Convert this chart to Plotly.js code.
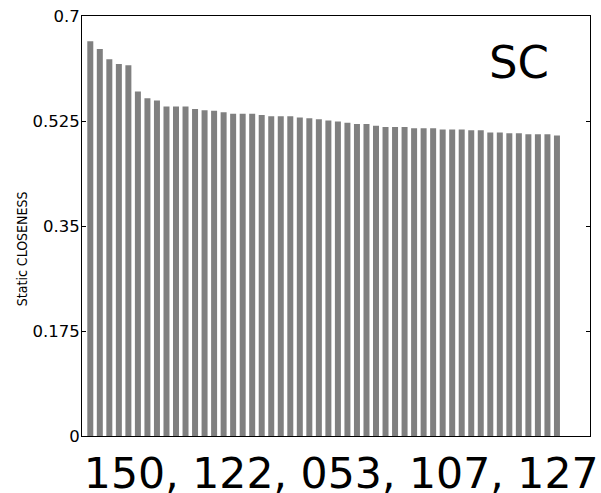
<!DOCTYPE html>
<html>
<head>
<meta charset="utf-8">
<script src="https://cdn.plot.ly/plotly-3.0.1.min.js"></script>
<style>html,body{margin:0;padding:0;background:#fff;}#chart{width:601px;height:493px;}</style>
</head>
<body>
<div id="chart"></div>
<script>
var nodeIndex = [];
var closeness = [0.658, 0.645, 0.628, 0.620, 0.618, 0.574, 0.563, 0.559, 0.549, 0.549,
                 0.549, 0.545, 0.543, 0.542, 0.5395, 0.537, 0.537, 0.537, 0.535, 0.533,
                 0.533, 0.533, 0.531, 0.5295, 0.528, 0.526, 0.524, 0.522, 0.520, 0.520,
                 0.517, 0.515, 0.515, 0.515, 0.513, 0.513, 0.513, 0.511, 0.511, 0.511,
                 0.5095, 0.5095, 0.506, 0.506, 0.5045, 0.5045, 0.503, 0.503, 0.503, 0.501];
for (var i = 0; i < closeness.length; i++) nodeIndex.push(i);
var xTickLabel = ["150, 122, 053, 107, 127"];
var yTickVals = [0, 0.175, 0.35, 0.525, 0.7];
var yTickText = ["0", "0.175", "0.35", "0.525", "0.7"];
var panelLabel = "SC";
var yTitle = "Static CLOSENESS";

var font = "DejaVu Sans, sans-serif";
var trace = {
  type: "bar",
  x: nodeIndex,
  y: closeness,
  width: 0.63,
  marker: {color: "#808080", line: {width: 0}},
  hoverinfo: "none"
};
var layout = {
  width: 601, height: 493,
  margin: {l: 82, r: 11, t: 16, b: 57, pad: 0},
  paper_bgcolor: "#fff", plot_bgcolor: "#fff",
  showlegend: false,
  font: {family: font, color: "#000"},
  xaxis: {
    range: [-0.87, 52.47],
    tickvals: [26.35], ticktext: xTickLabel,
    ticks: "", tickfont: {size: 42.6, family: font},
    showgrid: false, zeroline: false,
    showline: true, linecolor: "#000", linewidth: 1, mirror: true
  },
  yaxis: {
    range: [0, 0.7],
    tickvals: yTickVals, ticktext: yTickText,
    ticks: "inside", ticklen: 4, tickcolor: "#000", tickwidth: 1,
    tickfont: {size: 16.5, family: font},
    ticklabelstandoff: -2,
    showgrid: false, zeroline: false,
    showline: true, linecolor: "#000", linewidth: 1, mirror: "ticks"
  },
  annotations: [{
    text: panelLabel, xref: "paper", yref: "paper",
    x: 0.86, y: 0.89, xanchor: "center", yanchor: "middle",
    showarrow: false, font: {size: 45, family: font, color: "#000"}
  }, {
    text: yTitle, xref: "paper", yref: "paper",
    x: -0.118, y: 0.445, xanchor: "center", yanchor: "middle",
    textangle: -90, showarrow: false,
    font: {size: 14, family: "DejaVu Sans Condensed, DejaVu Sans, sans-serif", color: "#000"}
  }]
};
Plotly.newPlot("chart", [trace], layout, {staticPlot: true, displayModeBar: false});
</script>
</body>
</html>
